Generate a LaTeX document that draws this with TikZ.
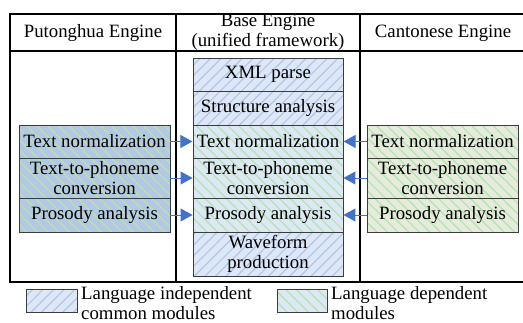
\documentclass[tikz,border=0pt]{standalone}
\usepackage{fontspec}
\setmainfont{Liberation Serif}
\usetikzlibrary{patterns.meta,arrows.meta}
\definecolor{indepbg}{RGB}{221,231,246}
\definecolor{indephatch}{RGB}{176,198,238}
\definecolor{greenhatch}{RGB}{175,230,170}
\definecolor{putbg}{RGB}{182,199,230}
\definecolor{cantbg}{RGB}{230,235,221}
\definecolor{boxline}{RGB}{60,60,60}
\definecolor{arrowblue}{RGB}{68,114,196}
\tikzset{
  module/.style={draw=boxline, line width=0.9pt, minimum width=150pt, inner sep=0pt,
    align=center, font=\fontsize{18.8}{20}\selectfont},
  indep/.style={module, preaction={fill=indepbg},
    pattern={Lines[angle=45,distance=7.5pt,line width=1.2pt]}, pattern color=indephatch},
  dep/.style={module, preaction={fill=indepbg},
    pattern={Lines[angle=-45,distance=7.5pt,line width=1.2pt]}, pattern color=greenhatch},
  putmod/.style={module, preaction={fill=putbg}, minimum width=151pt,
    pattern={Lines[angle=-45,distance=7.5pt,line width=1.2pt]}, pattern color=greenhatch},
  cantmod/.style={module, preaction={fill=cantbg}, minimum width=151pt,
    pattern={Lines[angle=-45,distance=7.5pt,line width=1.2pt]}, pattern color=greenhatch},
  frame/.style={line width=1.2pt, black},
  feed/.style={arrowblue, line width=1pt, -{Triangle[length=12pt,width=13pt]}},
  head/.style={align=center, font=\fontsize{18.8}{20}\selectfont},
}
\begin{document}
\begin{tikzpicture}[x=1pt,y=-1pt]
  \useasboundingbox (0,0) rectangle (523,322);
  \draw[frame] (10,14) rectangle (530,282);
  \draw[frame] (10,51) -- (530,51);
  \draw[frame] (176,14) -- (176,282);
  \draw[frame] (360,14) -- (360,282);
  \node[head] (hput) at (93,33) {Putonghua Engine};
  \node[head] (hbase) at (268,32) {Base Engine\\(unified framework)};
  \node[head] (hcant) at (443,33) {Cantonese Engine};
  \node[indep, minimum height=33pt] (xml) at (268,74.5) {XML parse};
  \node[indep, minimum height=34pt] (struct) at (268,108) {Structure analysis};
  \node[dep, minimum height=33pt] (bnorm) at (268,141.5) {Text normalization};
  \node[dep, minimum height=40pt] (bphon) at (268,178) {Text-to-phoneme\\conversion};
  \node[dep, minimum height=34pt] (bpros) at (268,215) {Prosody analysis};
  \node[indep, minimum height=44pt] (wave) at (268,254) {Waveform\\production};
  \node[putmod, minimum height=33pt] (pnorm) at (94.5,141.5) {Text normalization};
  \node[putmod, minimum height=40pt] (pphon) at (94.5,178) {Text-to-phoneme\\conversion};
  \node[putmod, minimum height=34pt] (ppros) at (94.5,215) {Prosody analysis};
  \node[cantmod, minimum height=33pt] (cnorm) at (442.5,141.5) {Text normalization};
  \node[cantmod, minimum height=40pt] (cphon) at (442.5,178) {Text-to-phoneme\\conversion};
  \node[cantmod, minimum height=34pt] (cpros) at (442.5,215) {Prosody analysis};
  \begin{scope}[feed]
    \draw (pnorm) to (bnorm);
    \draw (pphon) to (bphon);
    \draw (ppros) to (bpros);
    \draw (cnorm) to (bnorm);
    \draw (cphon) to (bphon);
    \draw (cpros) to (bpros);
  \end{scope}
  \node[indep, minimum width=51pt, minimum height=23pt] (keyindep) at (51.5,300.5) {};
  \node[dep, minimum width=50pt, minimum height=23pt] (keydep) at (302,300.5) {};
  \node[head, align=left, anchor=west, inner sep=0pt] (tindep) at (81,303) {Language independent\\common modules};
  \node[head, align=left, anchor=west, inner sep=0pt] (tdep) at (331,303) {Language dependent\\modules};
\end{tikzpicture}
\end{document}
